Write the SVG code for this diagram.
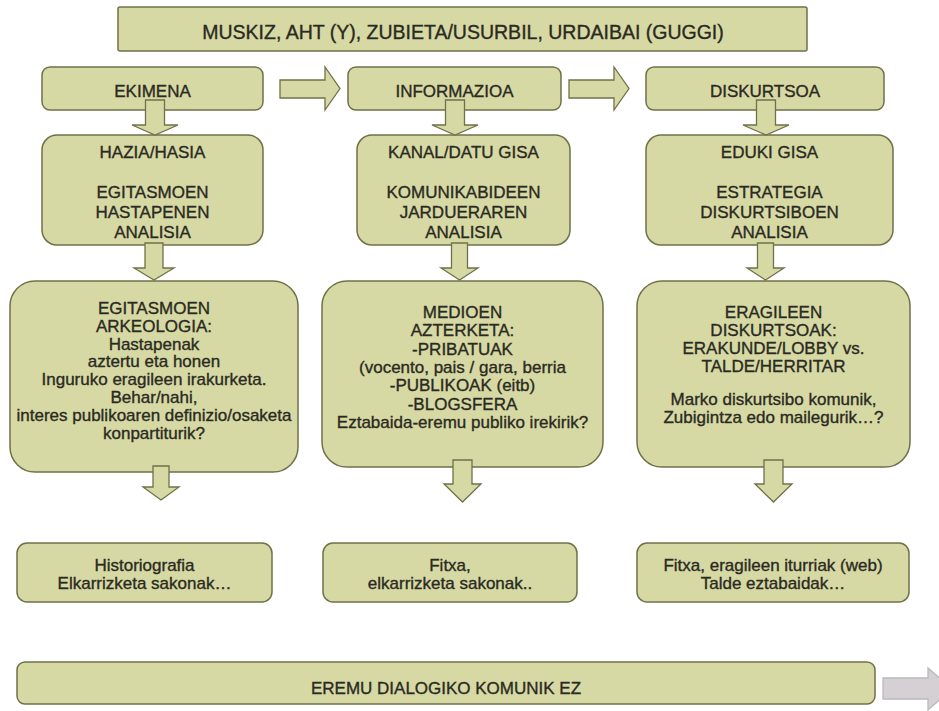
<svg xmlns="http://www.w3.org/2000/svg" width="939" height="711" viewBox="0 0 939 711">
<style>
.box{fill:#d7d9a4;stroke:#707049;stroke-width:1.5}
.arr{fill:#d7d9a4;stroke:#707049;stroke-width:1.3;stroke-linejoin:miter}
.gray{fill:#d4d0d4;stroke:#bcb8bc;stroke-width:1.3}
text{font-family:"Liberation Sans",Arial,sans-serif;font-size:17px;fill:#2a2a22;stroke:#2a2a22;stroke-width:0.35;text-anchor:middle}
.big{font-size:19.5px}
</style>
<rect width="939" height="711" fill="#ffffff"/>
<g id="banner"><rect class="box" x="118" y="7" width="689" height="44" rx="2"/><text class="big" x="463" y="39">MUSKIZ, AHT (Y), ZUBIETA/USURBIL, URDAIBAI (GUGGI)</text></g>
<g id="ekimena"><rect class="box" x="42" y="67" width="221" height="43" rx="8"/><text x="152.5" y="97">EKIMENA</text></g>
<g id="informazioa"><rect class="box" x="348" y="67" width="213" height="43" rx="8"/><text x="454.5" y="97">INFORMAZIOA</text></g>
<g id="diskurtsoa"><rect class="box" x="646" y="67" width="238" height="43" rx="8"/><text x="765" y="97">DISKURTSOA</text></g>
<g id="hazia"><rect class="box" x="42" y="135" width="221" height="110" rx="15"/><text x="152.5" y="158">HAZIA/HASIA</text><text x="152.5" y="198">EGITASMOEN</text><text x="152.5" y="218">HASTAPENEN</text><text x="152.5" y="238">ANALISIA</text></g>
<g id="kanal"><rect class="box" x="357" y="135" width="213" height="110" rx="15"/><text x="463.5" y="158">KANAL/DATU GISA</text><text x="463.5" y="198">KOMUNIKABIDEEN</text><text x="463.5" y="218">JARDUERAREN</text><text x="463.5" y="238">ANALISIA</text></g>
<g id="eduki"><rect class="box" x="646" y="135" width="247" height="110" rx="15"/><text x="769.5" y="158">EDUKI GISA</text><text x="769.5" y="198">ESTRATEGIA</text><text x="769.5" y="218">DISKURTSIBOEN</text><text x="769.5" y="238">ANALISIA</text></g>
<g id="arkeologia"><rect class="box" x="10" y="281" width="288" height="191" rx="25"/>
<text x="154" y="314">EGITASMOEN</text><text x="154" y="331.8">ARKEOLOGIA:</text><text x="154" y="349.6">Hastapenak</text><text x="154" y="367.4">aztertu eta honen</text><text x="154" y="385.2">Inguruko eragileen irakurketa.</text><text x="154" y="403">Behar/nahi,</text><text x="154" y="420.8">interes publikoaren definizio/osaketa</text><text x="154" y="438.6">konpartiturik?</text></g>
<g id="medioen"><rect class="box" x="322" y="281" width="281" height="186" rx="25"/>
<text x="462.5" y="318">MEDIOEN</text><text x="462.5" y="336.3">AZTERKETA:</text><text x="462.5" y="354.6">-PRIBATUAK</text><text x="462.5" y="372.9">(vocento, pais / gara, berria</text><text x="462.5" y="391.2">-PUBLIKOAK (eitb)</text><text x="462.5" y="409.5">-BLOGSFERA</text><text x="462.5" y="427.8">Eztabaida-eremu publiko irekirik?</text></g>
<g id="eragileen"><rect class="box" x="637" y="281" width="273" height="186" rx="25"/>
<text x="773.5" y="318">ERAGILEEN</text><text x="773.5" y="336">DISKURTSOAK:</text><text x="773.5" y="354">ERAKUNDE/LOBBY vs.</text><text x="773.5" y="372">TALDE/HERRITAR</text><text x="773.5" y="405">Marko diskurtsibo komunik,</text><text x="773.5" y="423">Zubigintza edo mailegurik…?</text></g>
<g id="historiografia"><rect class="box" x="17" y="543" width="255" height="59" rx="10"/><text x="144.5" y="571">Historiografia</text><text x="144.5" y="589">Elkarrizketa sakonak…</text></g>
<g id="fitxa1"><rect class="box" x="323" y="543" width="254" height="59" rx="10"/><text x="450" y="571">Fitxa,</text><text x="450" y="589">elkarrizketa sakonak..</text></g>
<g id="fitxa2"><rect class="box" x="637" y="543" width="272" height="59" rx="10"/><text x="773" y="571">Fitxa, eragileen iturriak (web)</text><text x="773" y="589">Talde eztabaidak…</text></g>
<g id="eremu"><rect class="box" x="17" y="662" width="858" height="42" rx="8"/><text x="446" y="694">EREMU DIALOGIKO KOMUNIK EZ</text></g>
<g id="connectors">
<polygon class="arr" points="280,80 325,80 325,67 340,88.5 325,110 325,98 280,98"/>
<polygon class="arr" points="569,80 614,80 614,67 629,88.5 614,110 614,98 569,98"/>
<polygon class="arr" points="145.5,100 164.5,100 164.5,125 178,125 155,135 132,125 145.5,125"/>
<polygon class="arr" points="445.5,100 464.5,100 464.5,125 478,125 455,135 432,125 445.5,125"/>
<polygon class="arr" points="756.5,100 775.5,100 775.5,125 789,125 766,135 743,125 756.5,125"/>
<polygon class="arr" points="145,243 163,243 163,268 174,268 154,280 134,268 145,268"/>
<polygon class="arr" points="451.5,243 467.5,243 467.5,268 478,268 459.5,280 441,268 451.5,268"/>
<polygon class="arr" points="757.5,243 773.5,243 773.5,268 784,268 765.5,280 747,268 757.5,268"/>
<polygon class="arr" points="153,466 169,466 169,487 179,487 161,500 143,487 153,487"/>
<polygon class="arr" points="453,460 472,460 472,484 481,484 462.5,502 444,484 453,484"/>
<polygon class="arr" points="764,460 783,460 783,484 792,484 773.5,502 755,484 764,484"/>
<polygon class="gray" points="883,678 928,678 928,668 952,689 928,710 928,699 883,699"/>
</g>
</svg>
